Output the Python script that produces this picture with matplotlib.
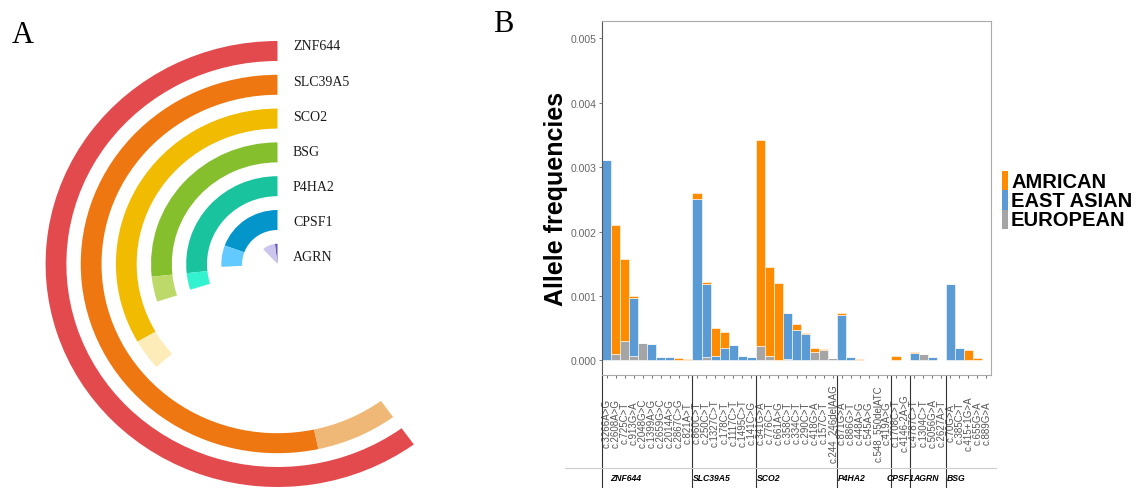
import matplotlib
matplotlib.use("Agg")
import matplotlib.pyplot as plt
from matplotlib.patches import Wedge, Rectangle

# ---- Panel A: radial bars (arc spans in degrees) ----
genes_a = ["ZNF644", "SLC39A5", "SCO2", "BSG", "P4HA2", "CPSF1", "AGRN"]
span_dark = [216, 192, 120, 96, 96, 70, 7]
span_light = [0, 24, 11.5, 12, 11, 23, 36]
col_dark = ["#E34A4E", "#EE7711", "#F0BB00", "#85BF2D", "#19C39E", "#0496CB", "#6655BB"]
col_light = ["#F2A0A0", "#F0B877", "#FDEBB8", "#BCD96A", "#33F2D0", "#62CAFF", "#CCC5EE"]

# ---- Panel B: allele frequencies per variant ----
groups = ["ZNF644", "SLC39A5", "SCO2", "P4HA2", "CPSF1", "AGRN", "BSG"]
group_sizes = [10, 7, 9, 6, 2, 4, 5]
variants = [
    "c.3266A>G", "c.2608A>G", "c.725C>T", "c.913G>A", "c.2048G>C", "c.1399A>G",
    "c.2659G>C", "c.2014A>G", "c.2867C>G", "c.821A>T",
    "c.860C>T", "c.250C>T", "c.1327C>T", "c.178C>T", "c.1117C>T", "c.1495C>T", "c.141C>G",
    "c.341G>A", "c.776C>T", "c.661A>G", "c.358C>T", "c.334C>T", "c.290C>T", "c.418G>A",
    "c.157C>T", "c.244_246delAAG",
    "c.871G>A", "c.886G>T", "c.448A>G", "c.545A>G", "c.548_550delATC", "c.419A>G",
    "c.1708C>T", "c.4146-2A>G",
    "c.4787C>T", "c.1304C>T", "c.5056G>A", "c.2627A>T",
    "c.70G>A", "c.385C>T", "c.415+1G>A", "c.655G>A", "c.889G>A",
]
european = [0, 0.0001, 0.0003, 0.00007, 0.00027, 0, 0, 0, 0, 0.00001,
            0, 0.00005, 0, 0, 0, 0, 0,
            0.00022, 0.00007, 0, 0.00002, 0, 0, 0.00013, 0.00016, 0.00004,
            0, 0, 0, 0.00001, 0, 0,
            0, 0,
            0, 0.0001, 0, 0,
            0, 0, 0, 0, 0]
east_asian = [0.00311, 0, 0, 0.0009, 0, 0.00025, 0.00006, 0.00006, 0, 0,
              0.0025, 0.00114, 0.00007, 0.00019, 0.00024, 0.00007, 0.00006,
              0, 0, 0, 0.00072, 0.00047, 0.00041, 0, 0, 0,
              0.0007, 0.00006, 0, 0, 0, 0,
              0, 0,
              0.00012, 0, 0.00006, 0,
              0.00118, 0.0002, 0, 0, 0]
american = [0, 0.002, 0.00127, 0.00003, 0, 0, 0, 0, 0.00004, 0.00001,
            0.0001, 0.00003, 0.00043, 0.00025, 0, 0, 0,
            0.0032, 0.00138, 0.0012, 0, 0.0001, 0.00001, 0.00007, 0.00002, 0,
            0.00004, 0, 0.00002, 0, 0.00001, 0.00001,
            0.00007, 0.00001,
            0.00001, 0, 0, 0.00001,
            0.00001, 0, 0.00017, 0.00004, 0.00001]
pop_names = ["AMRICAN", "EAST ASIAN", "EUROPEAN"]
pop_colors = ["#FF8C00", "#5B9BD5", "#A5A5A5"]

W, H = 1139, 489
fig = plt.figure(figsize=(W / 100, H / 100), dpi=100)

# panel A
stretch = 1.04
ax_a = fig.add_axes([0, 0, 520 / W, 1])
ax_a.set_xlim(0, 520 / stretch)
ax_a.set_ylim(0, H)
ax_a.axis("off")
cx, cy = 277.5 / stretch, H - 265
for i, g in enumerate(genes_a):
    r = 223 - 33.8 * i
    ax_a.add_patch(Wedge((cx, cy), r, 90, 90 + span_dark[i], width=20,
                         facecolor=col_dark[i], edgecolor="none"))
    if span_light[i] > 0:
        ax_a.add_patch(Wedge((cx, cy), r, 90 + span_dark[i],
                             90 + span_dark[i] + span_light[i], width=20,
                             facecolor=col_light[i], edgecolor="none"))
    ax_a.text(293 / stretch, H - (47 + 35.1 * i), g, fontsize=10,
              family="Liberation Serif", color="#1a1a1a", va="center", ha="left")

fig.text(12 / W, 1 - 43 / H, "A", fontsize=22, family="Liberation Serif", va="baseline")
fig.text(493 / W, 1 - 32 / H, "B", fontsize=22, family="Liberation Serif", va="baseline")

# panel B
ax = fig.add_axes([602 / W, 1 - 376 / H, (991 - 602) / W, (376 - 22) / H])
x = list(range(len(variants)))
eur_eas = [e + a for e, a in zip(european, east_asian)]
ax.bar(x, european, width=1, color=pop_colors[2], edgecolor="white", linewidth=0.4)
ax.bar(x, east_asian, width=1, bottom=european, color=pop_colors[1],
       edgecolor="white", linewidth=0.4)
ax.bar(x, american, width=1, bottom=eur_eas, color=pop_colors[0],
       edgecolor="white", linewidth=0.4)

ax.set_xlim(-0.5, len(variants) - 0.5)
ax.set_ylim(-0.000225, 0.005264)
ax.set_yticks([0, 0.001, 0.002, 0.003, 0.004, 0.005])
ax.set_yticklabels(["0.000", "0.001", "0.002", "0.003", "0.004", "0.005"])
ax.set_xticks(x)
ax.set_xticklabels(variants, rotation=90, family="Liberation Sans")
for lbl in ax.get_xticklabels():
    lbl.set_va("center")
ax.tick_params(axis="x", length=2, pad=32, labelsize=7, colors="#555555", width=0.6)
ax.tick_params(axis="y", length=2.5, pad=1.5, labelsize=7.5, colors="#666666", width=0.6)
for lbl in ax.get_yticklabels():
    lbl.set_family("Liberation Sans")
for s in ax.spines.values():
    s.set_color("#AAAAAA")
    s.set_linewidth(0.8)
ax.spines["left"].set_color("#555555")

ax.set_ylabel("Allele frequencies", fontsize=18, weight="bold", family="Liberation Sans")
ax.yaxis.set_label_coords(-0.088, 0.5)

# gene group separators and names under the labels
trans = ax.get_xaxis_transform()
y_bot = (376 - 489) / (376 - 22)
y_line = (376 - 469) / (376 - 22)
y_name = (376 - 479) / (376 - 22)
name_shift = {"ZNF644": 0.8, "CPSF1": -0.6, "AGRN": 0.3}
start = 0
for g, n in zip(groups, group_sizes):
    ax.plot([start - 0.5, start - 0.5], [0, y_bot], color="#333333", lw=0.8,
            transform=trans, clip_on=False)
    ax.text(start - 0.4 + name_shift.get(g, 0), y_name, g, transform=trans,
            fontsize=6.2, weight="bold", style="italic", family="Liberation Sans",
            va="center", ha="left")
    start += n
ax.plot([-4.6, 43.1], [y_line, y_line], color="#CCCCCC", lw=0.8,
        transform=trans, clip_on=False)

# legend
for k, (name, col) in enumerate(zip(pop_names, pop_colors)):
    y_top = 172 + 19.4 * k
    fig.patches.append(Rectangle((1002 / W, 1 - (y_top + 19.4) / H), 6 / W, 19.4 / H,
                                 transform=fig.transFigure, facecolor=col, edgecolor="none"))
    fig.text(1011 / W, 1 - (y_top + 10) / H, name, fontsize=14.5, weight="bold",
             family="Liberation Sans", va="center", ha="left")

fig.savefig("out.png", dpi=100)
